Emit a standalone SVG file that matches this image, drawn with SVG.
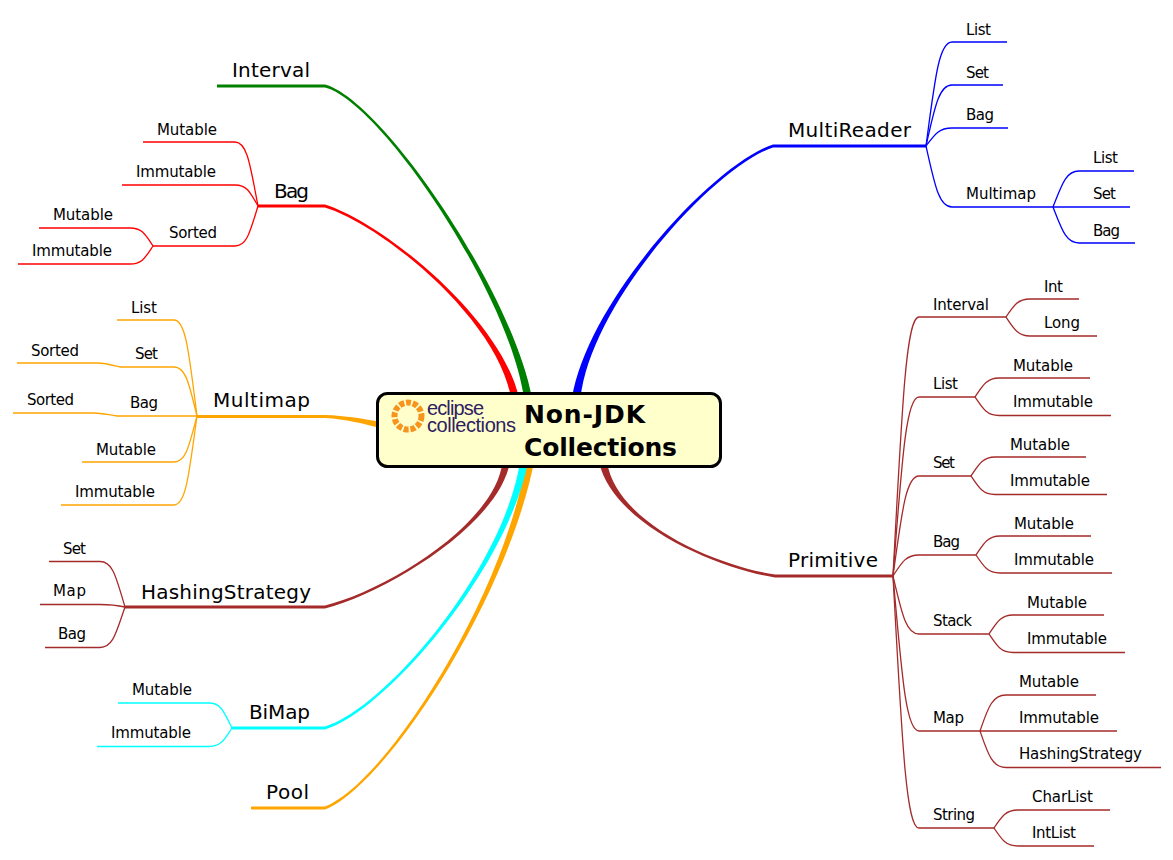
<svg xmlns="http://www.w3.org/2000/svg" width="1173" height="860" viewBox="0 0 1173 860">
<style>
text{font-family:"DejaVu Sans","Liberation Sans",sans-serif;fill:#000}
.s{font-size:15px}
.m{font-size:20px}
.t{font-size:25px;font-weight:bold}
.l{font-family:"Liberation Sans",sans-serif;font-size:20px;fill:#2e2060}
.e{fill:none;stroke-width:1.3}
.red{stroke:#f00}.org{stroke:#ffa500}.blu{stroke:#00f}.brn{stroke:#a52a2a}.cya{stroke:#0ff}
</style>
<g id="connectors">
<g id="main">
<path fill="#008000" d="M217 84.500H325C381 99.300 511.800 289.700 532 398L524 398C508.200 290.300 379 100.700 325 87.500H217Z"/>
<path fill="#f00" d="M258 204.500H325C385.800 224.100 501.800 319.700 519 398L511 398C498.200 320.300 384.200 225.900 325 207.500H258Z"/>
<path fill="#00f" d="M926 144.500H773C714 164 588.200 299.700 572 398L580.500 398C591.800 300.300 716 166 773 147.500H926Z"/>
<path fill="#ffa500" d="M197 415H325C345 415.500 365 419 380 422L380 428C365 424 345 419 325 418H197Z"/>
<path fill="#a52a2a" d="M125 605.500H325C384.600 591 495.200 524.700 502.500 462L510 462C498.800 525.300 385.400 593 325 608.500H125Z"/>
<path fill="#ffa500" d="M251 806.500H325C384.300 784 503.200 599.700 526 462L534 462C506.800 600.300 385.700 786 325 809.500H251Z"/>
<path fill="#0ff" d="M232 726.500H325C384.300 709 503.200 569.700 520 462L528 462C506.800 570.300 385.700 711 325 729.500H232Z"/>
<path fill="#a52a2a" d="M893 574.500H775C720.400 566.800 616.800 524.700 607 462L599 462C613.200 525.300 719.600 569.200 775 577.500H893Z"/>
</g>
<g class="e red">
<path d="M258 206c-8 -42 -11 -64 -23 -64H143"/>
<path d="M258 206c-8 -14 -11 -21 -23 -21H122"/>
<path d="M258 206c-8 26 -11 40 -23 40H153"/>
<path d="M153 246c-8 -12 -11 -18 -23 -18H39"/>
<path d="M153 246c-8 12 -11 18 -23 18H18"/>
</g>
<g class="e org">
<path d="M197 416c-8 -62 -11 -96 -23 -96H117"/>
<path d="M197 416c-8 -32 -11 -49 -23 -49H120c-8 -2 -15 -4 -23 -4H17"/>
<path d="M197 416H117c-8 -1 -15 -3 -23 -3H13"/>
<path d="M197 416c-8 30 -11 46 -23 46H82"/>
<path d="M197 416c-8 58 -11 89 -23 89H61"/>
</g>
<g class="e blu">
<path d="M926 146c9 -68 13 -104 26 -104H1007"/>
<path d="M926 146c9 -40 13 -61 26 -61H1003"/>
<path d="M926 146c9 -12 13 -18 26 -18H1008"/>
<path d="M926 146c9 40 13 61 26 61H1053"/>
<path d="M1053 207c9 -23 13 -36 26 -36H1134"/>
<path d="M1053 207H1130"/>
<path d="M1053 207c9 23 13 36 26 36H1135"/>
</g>
<g class="e brn">
<path d="M893 576c9 -168 13 -259 26 -259H1006"/>
<path d="M893 576c9 -116 13 -179 26 -179H975"/>
<path d="M893 576c9 -65 13 -100 26 -100H971"/>
<path d="M893 576c9 -14 13 -21 26 -21H976"/>
<path d="M893 576c9 38 13 58 26 58H989"/>
<path d="M893 576c9 101 13 155 26 155H980"/>
<path d="M893 576c9 164 13 252 26 252H994"/>
<path d="M1006 317c8 -12 12 -18 24 -18H1079"/>
<path d="M1006 317c8 12 12 19 24 19H1097"/>
<path d="M975 397c8 -12 12 -19 24 -19H1090"/>
<path d="M975 397c8 12 12 18.500 24 18.500H1111"/>
<path d="M971 476c8 -12 12 -19 24 -19H1086"/>
<path d="M971 476c8 12 12 18.500 24 18.500H1107"/>
<path d="M976 555c8 -12 12 -19 24 -19H1091"/>
<path d="M976 555c8 12 12 18 24 18H1112"/>
<path d="M989 634c8 -12 12 -19 24 -19H1104"/>
<path d="M989 634c8 12 12 18.500 24 18.500H1125"/>
<path d="M980 731c8 -23 12 -36 26 -36H1096"/>
<path d="M980 731H1117"/>
<path d="M980 731c8 23 12 36.500 26 36.500H1161"/>
<path d="M994 828c8 -12 12 -18 24 -18H1110"/>
<path d="M994 828c8 12 12 18 24 18H1094"/>
<path d="M125 607c-9 -30 -12 -45.500 -25 -45.500H49"/>
<path d="M125 607c-9 -2 -16 -2.500 -25 -2.500H40"/>
<path d="M125 607c-9 26 -12 40.500 -25 40.500H45"/>
</g>
<g class="e cya">
<path d="M232 728c-8 -16 -11 -25 -23 -25H118"/>
<path d="M232 728c-8 12 -11 18.500 -23 18.500H97"/>
</g>
</g>
<g id="center">
<rect x="377.500" y="393.500" width="343" height="73" rx="10" fill="#ffc" stroke="#000" stroke-width="3"/>
<circle cx="408" cy="416" r="13.500" fill="none" stroke="#f7941d" stroke-width="6" stroke-dasharray="5 1.800"/>
<text class="l"><tspan x="427" y="415" textLength="57">eclipse</tspan><tspan x="427" y="432" textLength="89">collections</tspan></text>
<text class="t" x="524" y="423" textLength="121">Non-JDK</text>
<text class="t" x="524" y="456" textLength="153">Collections</text>
</g>
<g id="interval"><text class="m" x="232" y="77" textLength="78">Interval</text></g>
<g id="bag">
<text class="m" x="274" y="198" textLength="35">Bag</text>
<text class="s" x="157" y="135" textLength="60">Mutable</text>
<text class="s" x="136" y="177" textLength="80">Immutable</text>
<text class="s" x="169" y="238" textLength="48">Sorted</text>
<text class="s" x="53" y="220" textLength="60">Mutable</text>
<text class="s" x="32" y="256" textLength="80">Immutable</text>
</g>
<g id="multimap">
<text class="m" x="213" y="407" textLength="97">Multimap</text>
<text class="s" x="131" y="313" textLength="26">List</text>
<text class="s" x="135" y="359" textLength="23">Set</text>
<text class="s" x="31" y="356" textLength="48">Sorted</text>
<text class="s" x="130" y="408" textLength="28">Bag</text>
<text class="s" x="27" y="405" textLength="47">Sorted</text>
<text class="s" x="96" y="455" textLength="60">Mutable</text>
<text class="s" x="75" y="497" textLength="80">Immutable</text>
</g>
<g id="hashingstrategy">
<text class="m" x="141" y="599" textLength="170">HashingStrategy</text>
<text class="s" x="63" y="554" textLength="23">Set</text>
<text class="s" x="53" y="596" textLength="33">Map</text>
<text class="s" x="58" y="639" textLength="28">Bag</text>
</g>
<g id="bimap">
<text class="m" x="249" y="719" textLength="61">BiMap</text>
<text class="s" x="132" y="695" textLength="60">Mutable</text>
<text class="s" x="111" y="738" textLength="80">Immutable</text>
</g>
<g id="pool"><text class="m" x="266" y="799" textLength="43">Pool</text></g>
<g id="multireader">
<text class="m" x="788" y="137" textLength="123">MultiReader</text>
<text class="s" x="966" y="35" textLength="25">List</text>
<text class="s" x="966" y="78" textLength="23">Set</text>
<text class="s" x="966" y="120" textLength="28">Bag</text>
<text class="s" x="966" y="199" textLength="70">Multimap</text>
<text class="s" x="1093" y="163" textLength="25">List</text>
<text class="s" x="1093" y="199" textLength="23">Set</text>
<text class="s" x="1093" y="236" textLength="27">Bag</text>
</g>
<g id="primitive">
<text class="m" x="788" y="567" textLength="90">Primitive</text>
<text class="s" x="933" y="310" textLength="56">Interval</text>
<text class="s" x="1044" y="292" textLength="19">Int</text>
<text class="s" x="1044" y="328" textLength="36">Long</text>
<text class="s" x="933" y="389" textLength="25">List</text>
<text class="s" x="1013" y="371" textLength="60">Mutable</text>
<text class="s" x="1013" y="407" textLength="80">Immutable</text>
<text class="s" x="933" y="468" textLength="22">Set</text>
<text class="s" x="1010" y="450" textLength="60">Mutable</text>
<text class="s" x="1010" y="486" textLength="80">Immutable</text>
<text class="s" x="933" y="547" textLength="27">Bag</text>
<text class="s" x="1014" y="529" textLength="60">Mutable</text>
<text class="s" x="1014" y="565" textLength="80">Immutable</text>
<text class="s" x="933" y="626" textLength="39">Stack</text>
<text class="s" x="1027" y="608" textLength="60">Mutable</text>
<text class="s" x="1027" y="644" textLength="80">Immutable</text>
<text class="s" x="933" y="723" textLength="31">Map</text>
<text class="s" x="1019" y="687" textLength="60">Mutable</text>
<text class="s" x="1019" y="723" textLength="80">Immutable</text>
<text class="s" x="1019" y="759" textLength="123">HashingStrategy</text>
<text class="s" x="933" y="820" textLength="42">String</text>
<text class="s" x="1032" y="802" textLength="61">CharList</text>
<text class="s" x="1032" y="838" textLength="44">IntList</text>
</g>
</svg>
